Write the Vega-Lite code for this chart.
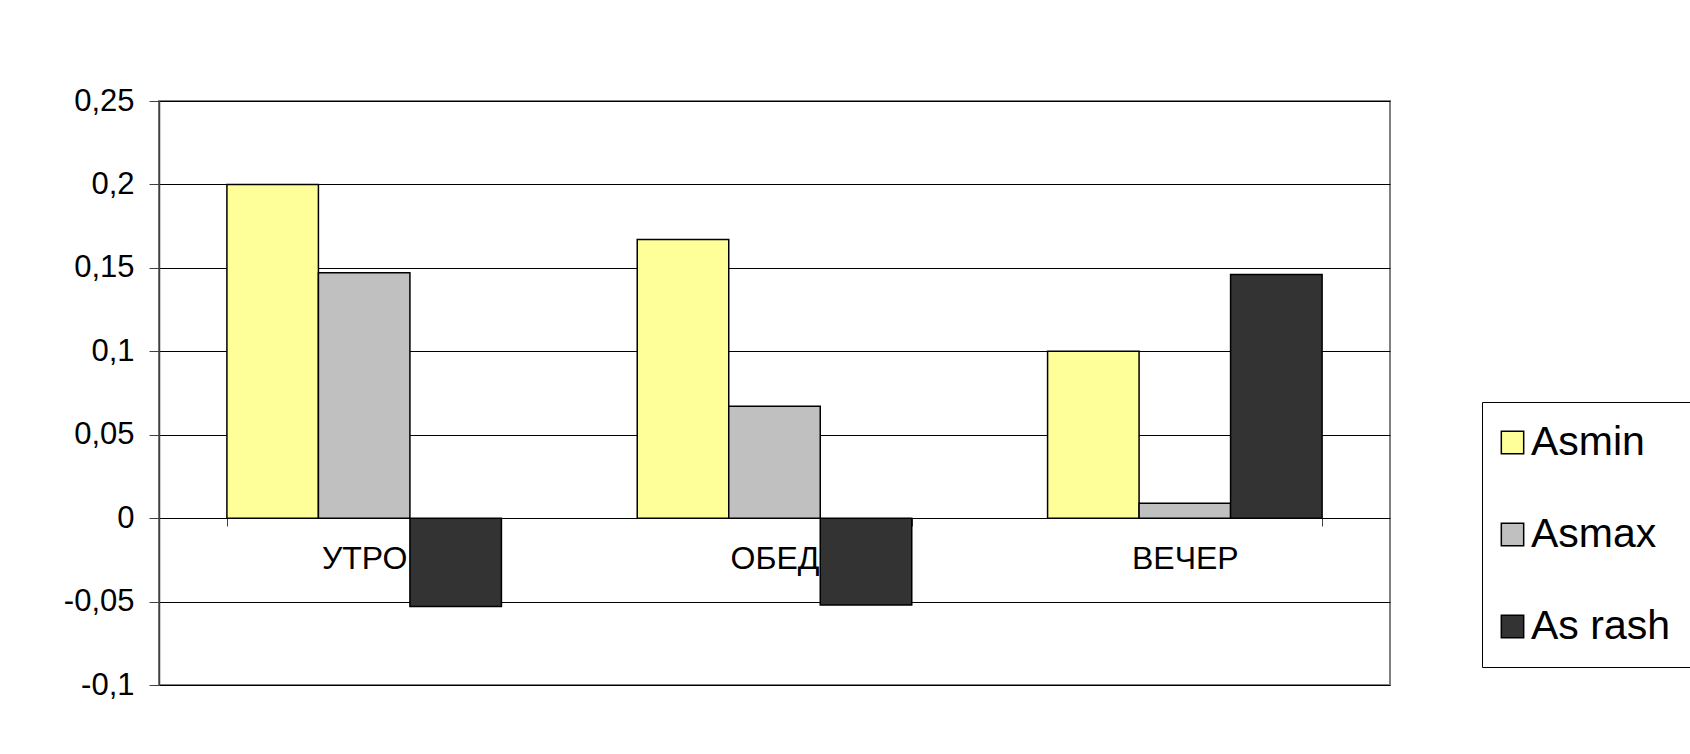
{
  "$schema": "https://vega.github.io/schema/vega-lite/v6.json",
  "autosize": {"type": "none"},
  "width": 1231,
  "height": 584,
  "padding": {"left": 159, "top": 101, "right": 300, "bottom": 69},
  "background": "white",
  "config": {
    "font": "Liberation Sans",
    "view": {"stroke": "#808080", "strokeWidth": 2},
    "locale": {
      "number": {"decimal": ",", "thousands": " ", "grouping": [3], "currency": ["", ""], "minus": "-"}
    }
  },
  "data": {
    "values": [
      {"period": "УТРО", "series": "Asmin", "value": 0.2},
      {"period": "УТРО", "series": "Asmax", "value": 0.147},
      {"period": "УТРО", "series": "As rash", "value": -0.053},
      {"period": "ОБЕД", "series": "Asmin", "value": 0.167},
      {"period": "ОБЕД", "series": "Asmax", "value": 0.067},
      {"period": "ОБЕД", "series": "As rash", "value": -0.052},
      {"period": "ВЕЧЕР", "series": "Asmin", "value": 0.1},
      {"period": "ВЕЧЕР", "series": "Asmax", "value": 0.009},
      {"period": "ВЕЧЕР", "series": "As rash", "value": 0.146}
    ]
  },
  "mark": {"type": "bar", "stroke": "black", "strokeWidth": 1.5},
  "encoding": {
    "x": {
      "field": "period",
      "type": "nominal",
      "sort": ["УТРО", "ОБЕД", "ВЕЧЕР"],
      "scale": {"paddingInner": 0.331, "paddingOuter": 0.1655},
      "axis": {
        "title": null,
        "offset": -167,
        "domain": false,
        "labelAngle": 0,
        "labelFontSize": 32,
        "labelColor": "black",
        "labelPadding": 17,
        "tickBand": "extent",
        "tickSize": 8,
        "tickColor": "#404040",
        "tickWidth": 1
      }
    },
    "xOffset": {
      "field": "series",
      "type": "nominal",
      "sort": ["Asmin", "Asmax", "As rash"],
      "scale": {"paddingInner": 0, "paddingOuter": 0}
    },
    "y": {
      "field": "value",
      "type": "quantitative",
      "scale": {"domain": [-0.1, 0.25], "nice": false, "zero": false},
      "axis": {
        "title": null,
        "values": [-0.1, -0.05, 0, 0.05, 0.1, 0.15, 0.2, 0.25],
        "format": "~g",
        "labelFontSize": 31,
        "labelColor": "black",
        "labelPadding": 15,
        "tickSize": 10,
        "tickColor": "#404040",
        "domainColor": "#404040",
        "domainWidth": 1.5,
        "grid": true,
        "gridColor": "black",
        "gridWidth": 1,
        "gridOpacity": 1
      }
    },
    "color": {
      "field": "series",
      "type": "nominal",
      "scale": {
        "domain": ["Asmin", "Asmax", "As rash"],
        "range": ["#FFFF99", "#C0C0C0", "#333333"]
      },
      "legend": {
        "title": null,
        "orient": "none",
        "legendX": 1323,
        "legendY": 301,
        "direction": "vertical",
        "strokeColor": "black",
        "fillColor": "white",
        "padding": 20,
        "labelFontSize": 41,
        "labelColor": "black",
        "labelOffset": -2,
        "symbolOffset": -10,
        "rowPadding": 50,
        "symbolType": "square",
        "symbolSize": 500,
        "symbolStrokeColor": "black",
        "symbolStrokeWidth": 1.5,
        "symbolOpacity": 1
      }
    }
  }
}
